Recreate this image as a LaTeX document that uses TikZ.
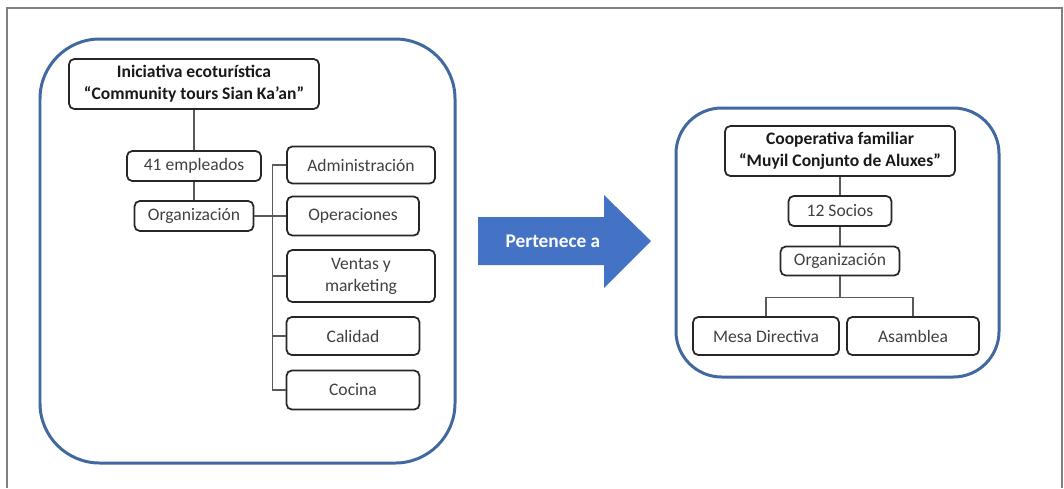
\documentclass[tikz,border=0pt]{standalone}
\usepackage{fontspec}
\setmainfont{Carlito}
\definecolor{frameblue}{RGB}{65,105,160}
\definecolor{arrowblue}{RGB}{68,114,196}
\tikzset{
  unit/.style={draw=black!85, line width=1pt, rounded corners=3pt, text=black!75,
    align=center, inner sep=1pt, font=\fontsize{10}{12.5}\selectfont},
  headunit/.style={unit, text=black!90, font=\bfseries\fontsize{10}{12.5}\selectfont},
  group/.style={draw=frameblue, line width=1.7pt},
  tree/.style={black!65, line width=0.6pt}
}
\begin{document}
\begin{tikzpicture}[x=0.02cm,y=-0.02cm,semithick]
\useasboundingbox (0,0) rectangle (1064,488);
\draw[black!50, line width=0.9pt] (7,488) -- (7,8) -- (1062,8) -- (1062,488);
% containers
\draw[group, rounded corners=34pt] (40,39) rectangle (455,463);
\draw[group, rounded corners=26pt] (676,108) rectangle (999,377);
% left tree
\node[headunit, minimum width=5cm, minimum height=1cm] (ini) at (194,84)
  {Iniciativa ecoturística\\“Community tours Sian Ka’an”};
\node[unit, minimum width=2.68cm, minimum height=0.6cm] (emp) at (194,166) {41 empleados};
\node[unit, minimum width=2.38cm, minimum height=0.6cm] (org) at (194,216) {Organización};
\node[unit, minimum width=2.96cm, minimum height=0.74cm] (adm) at (361,165) {Administración};
\node[unit, minimum width=2.64cm, minimum height=0.78cm] (ope) at (353,216) {Operaciones};
\node[unit, minimum width=2.96cm, minimum height=1.04cm] (ven) at (361,276) {Ventas y\\marketing};
\node[unit, minimum width=2.66cm, minimum height=0.76cm] (cal) at (353,336) {Calidad};
\node[unit, minimum width=2.66cm, minimum height=0.78cm] (coc) at (353,390) {Cocina};
\path[tree] (ini) edge (emp);
\path[tree] (emp) edge (org);
\path[tree] (org) edge (ope);
\draw[tree] (adm.west) -- ++(-14,0) |- (coc.west);
\foreach \b in {ven,cal}
  \draw[tree] (\b.west) -- ++(-14,0);
% arrow
\fill[arrowblue] (478,217) -- (604,217) -- (604,195) -- (651,241) -- (604,288)
  -- (604,265) -- (478,265) -- cycle;
\node[text=white, font=\bfseries\fontsize{11}{13}\selectfont] (per) at (553,241) {Pertenece a};
% right tree
\node[headunit, minimum width=4.6cm, minimum height=1cm] (coop) at (840,151)
  {Cooperativa familiar\\“Muyil Conjunto de Aluxes”};
\node[unit, minimum width=2.06cm, minimum height=0.6cm] (soc) at (840,211) {12 Socios};
\node[unit, minimum width=2.38cm, minimum height=0.58cm] (org2) at (840,261) {Organización};
\node[unit, minimum width=2.92cm, minimum height=0.76cm] (mesa) at (766,336) {Mesa Directiva};
\node[unit, minimum width=2.64cm, minimum height=0.76cm] (asam) at (913,336) {Asamblea};
\path[tree] (coop) edge (soc);
\path[tree] (soc) edge (org2);
\draw[tree] (org2.south) -- ++(0,21) coordinate (split) -| (mesa.north);
\draw[tree] (split) -| (asam.north);
\end{tikzpicture}
\end{document}
